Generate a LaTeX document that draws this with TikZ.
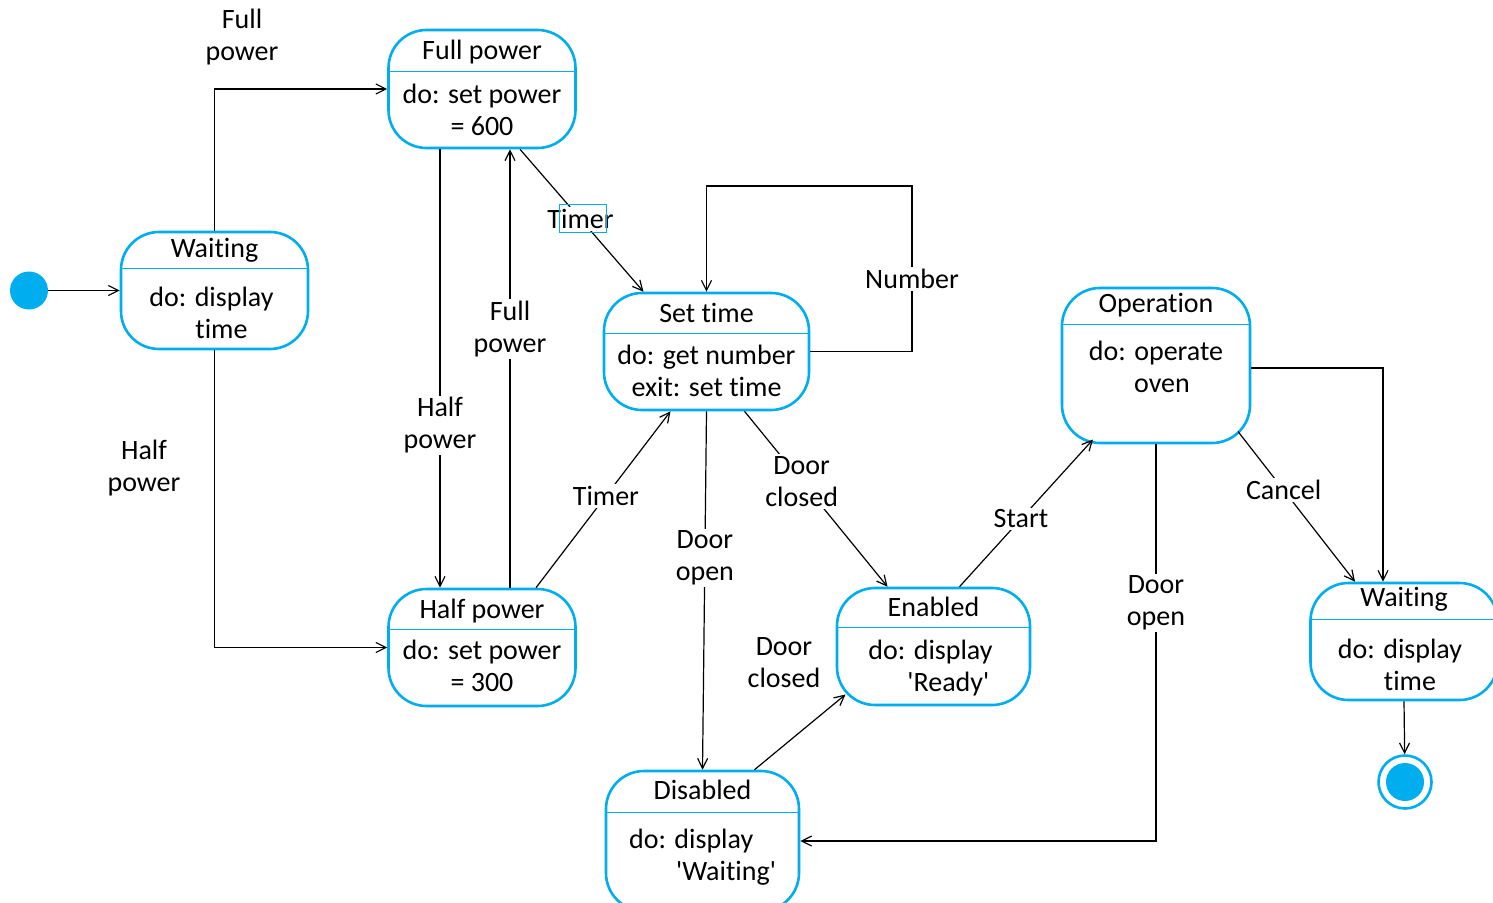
\documentclass[tikz,border=0pt]{standalone}
\usepackage{fontspec}
\setmainfont{Carlito}[Ligatures={NoCommon}]
\usetikzlibrary{arrows.meta,calc}
\definecolor{umlblue}{RGB}{0,174,239}

\begin{document}
\begin{tikzpicture}[x=1pt,y=-1pt,
  every node/.style={font=\fontsize{28}{32}\selectfont},
  statebox/.style={draw=umlblue, line width=2.6pt, rounded corners=38pt, inner sep=0pt},
  divider/.style={umlblue, line width=1.4pt},
  tr/.style={-{Straight Barb[length=10pt,width=10pt]}, line width=1.2pt},
  lbl/.style={fill=white, align=center, inner sep=2pt}]

\useasboundingbox (0,0) rectangle (1493,902);

% states
\node[statebox, minimum width=187pt, minimum height=117pt] (wait) at (214.5,290.5) {};
\node[anchor=base] at ($(wait.north)+(0,27)$) {Waiting};
\draw[divider] ($(wait.north west)+(0,38)$) -- ($(wait.north east)+(0,38)$);
\node[anchor=north, align=left, inner sep=0pt] at ($(wait.north)+(-3,56)$) {do: display\\\hspace*{46pt}time};

\node[statebox, minimum width=187pt, minimum height=118pt] (full) at (482,89) {};
\node[anchor=base] at ($(full.north)+(0,31)$) {Full power};
\draw[divider] ($(full.north west)+(0,43)$) -- ($(full.north east)+(0,43)$);
\node[anchor=north, align=center, inner sep=0pt] at ($(full.north)+(0,55)$) {do: set power\\= 600};

\node[statebox, minimum width=187pt, minimum height=117pt] (half) at (482,647.5) {};
\node[anchor=base] at ($(half.north)+(0,31)$) {Half power};
\draw[divider] ($(half.north west)+(0,42)$) -- ($(half.north east)+(0,42)$);
\node[anchor=north, align=center, inner sep=0pt] at ($(half.north)+(0,52)$) {do: set power\\= 300};

\node[statebox, minimum width=205pt, minimum height=117pt] (set) at (706.5,351.5) {};
\node[anchor=base] at ($(set.north)+(0,31)$) {Set time};
\draw[divider] ($(set.north west)+(0,42)$) -- ($(set.north east)+(0,42)$);
\node[anchor=north, align=center, inner sep=0pt] at ($(set.north)+(0,53)$) {do: get number\\exit: set time};

\node[statebox, minimum width=193pt, minimum height=140pt] (dis) at (702.5,841) {};
\node[anchor=base] at ($(dis.north)+(0,30)$) {Disabled};
\draw[divider] ($(dis.north west)+(0,43)$) -- ($(dis.north east)+(0,43)$);
\node[anchor=north, align=left, inner sep=0pt] at ($(dis.north)+(0,59)$) {do: display\\\hspace*{47pt}\textquotesingle Waiting\textquotesingle};

\node[statebox, minimum width=193pt, minimum height=117pt] (en) at (933.5,646.5) {};
\node[anchor=base] at ($(en.north)+(0,30)$) {Enabled};
\draw[divider] ($(en.north west)+(0,41)$) -- ($(en.north east)+(0,41)$);
\node[anchor=north, align=left, inner sep=0pt] at ($(en.north)+(-3,53)$) {do: display\\\hspace*{39pt}\textquotesingle Ready\textquotesingle};

\node[statebox, minimum width=188pt, minimum height=155pt] (op) at (1156,365.5) {};
\node[anchor=base] at ($(op.north)+(0,26)$) {Operation};
\draw[divider] ($(op.north west)+(0,38)$) -- ($(op.north east)+(0,38)$);
\node[anchor=north, align=center, inner sep=0pt] at ($(op.north)+(0,54)$) {do: operate\\\hspace*{12pt}oven};

\node[statebox, minimum width=187pt, minimum height=117pt] (wait2) at (1404,641.5) {};
\node[anchor=base] at ($(wait2.north)+(0,25)$) {Waiting};
\draw[divider] ($(wait2.north west)+(0,38)$) -- ($(wait2.north east)+(0,38)$);
\node[anchor=north, align=left, inner sep=0pt] at ($(wait2.north)+(-4,57)$) {do: display\\\hspace*{46pt}time};

\node[circle, fill=umlblue, minimum size=38pt, inner sep=0pt] (init) at (29,290.5) {};
\node[circle, draw=umlblue, line width=2.6pt, minimum size=53pt, inner sep=0pt] (final) at (1405,782) {};
\node[circle, fill=umlblue, minimum size=38pt, inner sep=0pt] at (final) {};

% transitions
\coordinate (loop) at (912,186);
\draw[tr] (init) -- (wait.west);
\draw[tr] (wait.north) |- (full.west);
\draw[tr] (wait.south) |- (half.west);
\draw[tr] ([xshift=-42pt]full.south) -- node[lbl, pos=0.63]{Half\\power} ([xshift=-42pt]half.north);
\draw[tr] ([xshift=28pt]half.north) -- node[lbl, pos=0.59]{Full\\power} ([xshift=28pt]full.south);
\draw[tr] ([xshift=38pt]full.south) -- node[lbl, pos=0.49] (tim) {Timer} ([xshift=-63pt]set.north);
\draw[tr] ([xshift=54pt]half.north) -- node[lbl, pos=0.52]{Timer} ([xshift=-36pt]set.south);
\draw[tr] (set.east) -| node[lbl, pos=0.72]{Number} (loop) -| (set.north);
\draw[tr] (set.south) -- node[lbl, pos=0.41]{Door\\open} (dis.north);
\draw[tr] ([xshift=38pt]set.south) -- node[lbl, pos=0.4]{Door\\closed} ([xshift=-46pt]en.north);
\draw[tr] ([xshift=52pt]dis.north) -- ([shift={(-88,48)}]en.center);
\draw[tr] ([xshift=26pt]en.north) -- node[lbl, pos=0.46]{Start} ([shift={(-63,74)}]op.center);
\draw[tr] (op.south) |- node[lbl, pos=0.2]{Door\\open} (dis.east);
\draw[tr] ([shift={(82,66)}]op.center) -- node[lbl, pos=0.39]{Cancel} ([xshift=-49pt]wait2.north);
\draw[tr] ([yshift=-2.5pt]op.east) -| ([xshift=-21pt]wait2.north);
\draw[tr] (wait2.south) -- (final);

\node[align=center] (fplbl) at (242,37) {Full\\power};
\node[align=center] (hplbl) at (144,468) {Half\\power};
\node[align=center] (dclbl) at (784,663) {Door\\closed};
\draw[umlblue, line width=1pt] (559,204) rectangle (606,232);

\end{tikzpicture}
\end{document}
